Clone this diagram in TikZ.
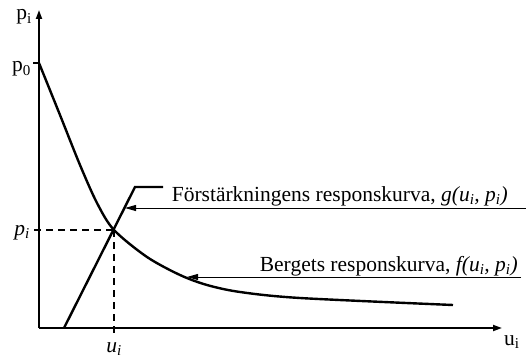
\documentclass[tikz,border=0pt]{standalone}
\usepackage{fontspec}
\setmainfont{Liberation Serif}
\usetikzlibrary{arrows.meta,positioning,calc}
\tikzset{
  axis/.style={line width=1.8pt, -{Triangle[length=9pt,width=6pt]}},
  curve/.style={line width=2.4pt, line join=round},
  guide/.style={line width=1.3pt, dash pattern=on 7pt off 5pt},
  leader/.style={line width=1pt, -{Triangle[length=11pt,width=6pt]}},
  lbl/.style={font=\fontsize{21.5}{23}\selectfont, inner sep=0pt},
  tick/.style={line width=1.6pt}
}

\begin{document}
\begin{tikzpicture}[x=1pt,y=-1pt]
  \useasboundingbox (0,0) rectangle (526,358);

  % axes
  \coordinate (origin) at (39,328);
  \coordinate (ytop) at (39,10);
  \coordinate (xend) at (502,328);
  \draw[axis] (origin) -- (ytop);
  \draw[axis] (origin) -- (xend);
  \node[lbl, anchor=base east] (ylabel) at (32,20) {p\textsubscript{i}};
  \node[lbl, anchor=base west] (xlabel) at (504,345) {u\textsubscript{i}};

  % p0 tick and label
  \coordinate (p0) at (39,63);
  \coordinate (p0tick) at (33,63);
  \draw[tick] (p0tick) -- (p0);
  \node[lbl, anchor=base east] (p0label) at (31,72) {p\textsubscript{0}};

  % equilibrium point
  \coordinate (eq) at (114,230);
  \coordinate (eqy) at (34,230);
  \coordinate (eqx) at (114,337);
  \draw[guide] (eqy) -- (eq);
  \draw[guide] (eq) -- (eqx);
  \node[lbl, anchor=base east] (pilabel) at (30,235) {\itshape p\textsubscript{i}};
  \node[lbl, anchor=base] (uilabel) at (114,352) {\itshape u\textsubscript{i}};

  % rock response curve
  \draw[curve] plot[smooth, tension=0.5] coordinates {(39,63) (60,115) (80,165) (97,203) (eq) (147,257) (180,275) (207,285) (240,292) (300,298) (453,305)};

  % support response curve
  \coordinate (gstart) at (64,328);
  \coordinate (gknee) at (135,187);
  \coordinate (gend) at (163,187);
  \draw[curve, line join=miter] (gstart) -- (gknee) -- (gend);

  % leaders with texts
  \coordinate (gtip) at (125,208);
  \coordinate (gfrom) at (526,208);
  \draw[leader] (gfrom) -- (gtip);
  \node[lbl, anchor=base east] (glabel) at (508,201) {Förstärkningens responskurva, {\itshape g(u\textsubscript{i}, p\textsubscript{i})}};

  \coordinate (ftip) at (187,277);
  \coordinate (ffrom) at (521,277);
  \draw[leader] (ffrom) -- (ftip);
  \node[lbl, anchor=base east] (flabel) at (518,271) {Bergets responskurva, {\itshape f(u\textsubscript{i}, p\textsubscript{i})}};
\end{tikzpicture}
\end{document}
